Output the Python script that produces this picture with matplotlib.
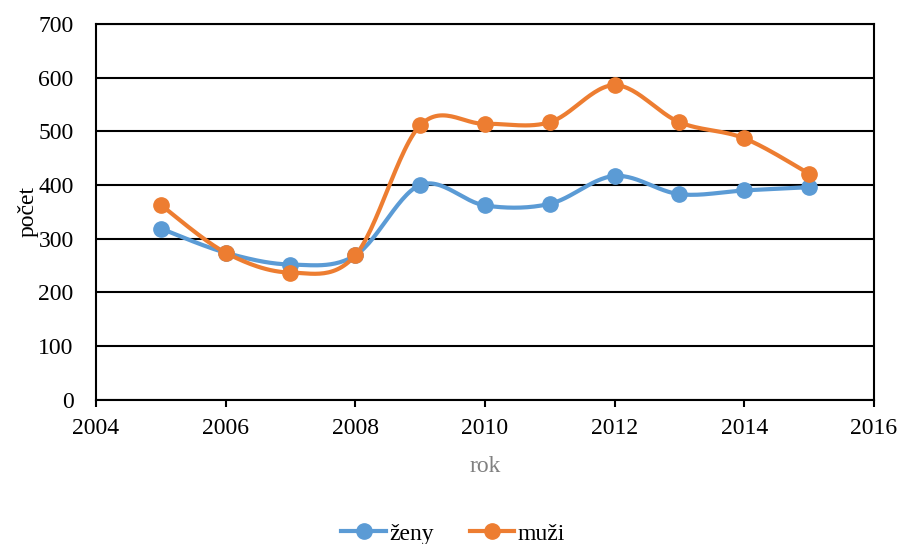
import numpy as np
import matplotlib.pyplot as plt

plt.rcParams['font.family'] = ['Liberation Serif', 'DejaVu Serif']

roky = [2005, 2006, 2007, 2008, 2009, 2010, 2011, 2012, 2013, 2014, 2015]
zeny = [319, 274, 252, 269, 400, 362, 365, 417, 383, 390, 396]
muzi = [363, 274, 237, 269, 511, 514, 517, 586, 517, 487, 421]

BLUE = '#5B9BD5'
ORANGE = '#ED7D31'


def smooth(x, y, n=30):
    # Excel-like smoothing: cubic Bezier between points, Catmull-Rom control points
    x = np.asarray(x, float)
    y = np.asarray(y, float)
    px = np.concatenate([[x[0]], x, [x[-1]]])
    py = np.concatenate([[y[0]], y, [y[-1]]])
    t = np.linspace(0, 1, n)
    xs, ys = [], []
    for i in range(1, len(px) - 2):
        p0 = np.array([px[i], py[i]])
        p3 = np.array([px[i + 1], py[i + 1]])
        c1 = p0 + (np.array([px[i + 1], py[i + 1]]) - np.array([px[i - 1], py[i - 1]])) / 6
        c2 = p3 - (np.array([px[i + 2], py[i + 2]]) - np.array([px[i], py[i]])) / 6
        b = ((1 - t) ** 3)[:, None] * p0 + (3 * (1 - t) ** 2 * t)[:, None] * c1 \
            + (3 * (1 - t) * t ** 2)[:, None] * c2 + (t ** 3)[:, None] * p3
        xs.extend(b[:, 0])
        ys.extend(b[:, 1])
    return xs, ys


fig = plt.figure(figsize=(9.01, 5.44), dpi=100)
ax = fig.add_axes([0.1065, 0.265, 0.8635, 0.691])

for data, col, name in [(zeny, BLUE, 'ženy'), (muzi, ORANGE, 'muži')]:
    sx, sy = smooth(roky, data)
    ax.plot(sx, sy, color=col, lw=3, solid_capstyle='round', zorder=3)
    ax.plot(roky, data, 'o', color=col, ms=11, zorder=4)
    ax.plot([], [], '-o', color=col, lw=3, ms=11, label=name)

ax.set_xlim(2004, 2016)
ax.set_ylim(0, 700)
ax.set_xticks(range(2004, 2017, 2))
ax.set_yticks(range(0, 701, 100))
ax.yaxis.grid(True, color='black', lw=1.5)
ax.set_axisbelow(True)
for s in ax.spines.values():
    s.set_linewidth(1.5)
ax.tick_params(labelsize=17, colors='black')
ax.tick_params(axis='x', length=5, width=1.5, pad=8)
ax.tick_params(axis='y', length=0, pad=16)
ax.set_xlabel('rok', fontsize=17, color='#808080', labelpad=12)
ax.set_ylabel('počet', fontsize=17, labelpad=0)

fig.legend(loc='lower center', bbox_to_anchor=(0.503, -0.04), ncol=2, frameon=False,
           fontsize=17, handlelength=1.9, columnspacing=1.5, handletextpad=0.15)

fig.savefig('out.png', dpi=100)
